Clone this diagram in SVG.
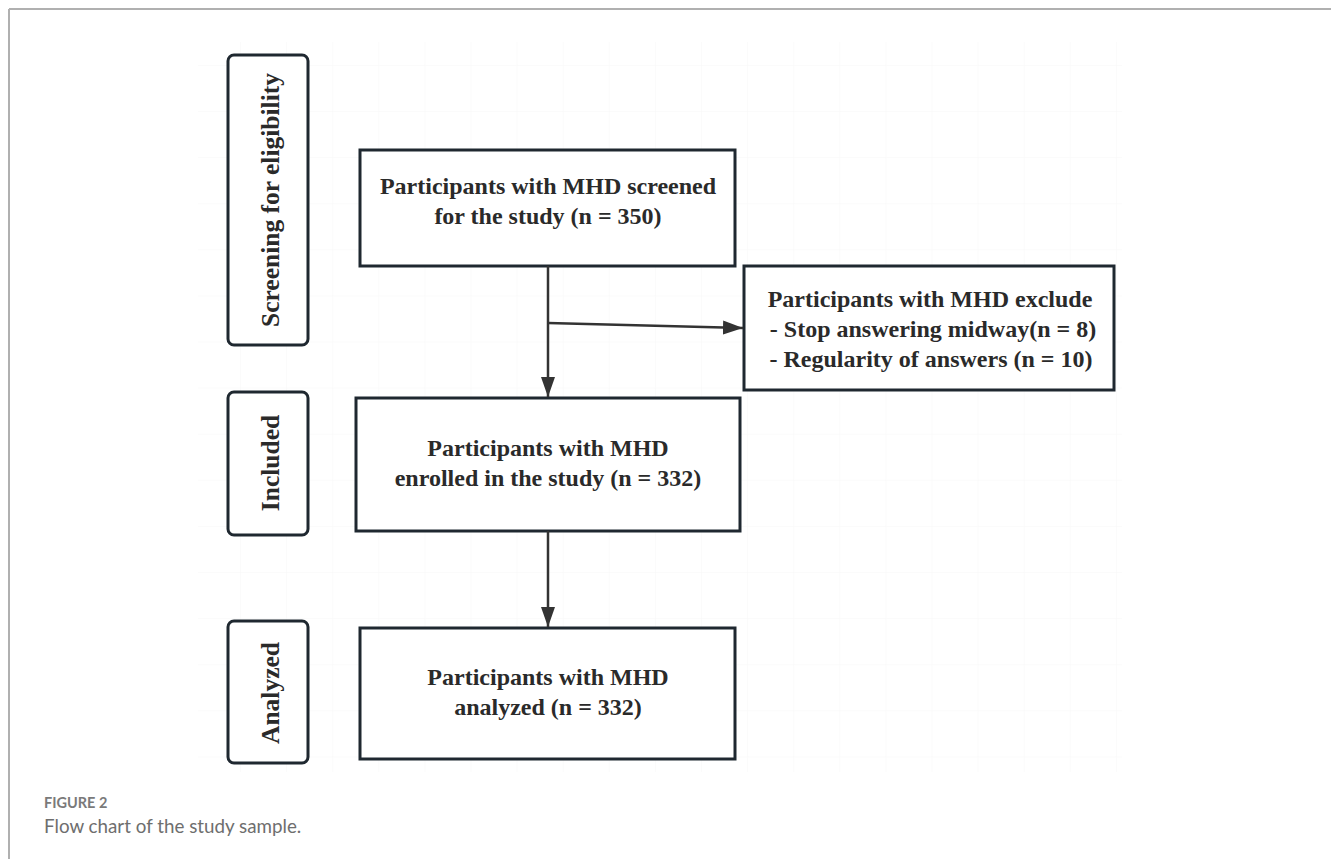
<svg xmlns="http://www.w3.org/2000/svg" width="1331" height="859" viewBox="0 0 1331 859">
  <style>
    .box { fill: #ffffff; stroke: #1f2830; stroke-width: 3; }
    .side { fill: #ffffff; stroke: #1f2830; stroke-width: 3; }
    .t { font-family: "Liberation Serif", "Times New Roman", serif; font-weight: bold; font-size: 24px; fill: #2a2a2a; text-anchor: middle; }
    .st { font-family: "Liberation Serif", "Times New Roman", serif; font-weight: bold; font-size: 25.5px; fill: #2a2a2a; text-anchor: middle; }
    .conn { stroke: #333333; stroke-width: 2.5; fill: none; }
    .cap1 { font-family: Lato, "Open Sans", sans-serif; font-weight: bold; font-size: 14.5px; fill: #7a7a7a; }
    .cap2 { font-family: Lato, "Open Sans", sans-serif; font-size: 18.8px; fill: #6e6e6e; }
  </style>
  <defs>
    <marker id="arr" viewBox="0 0 20 14" refX="20" refY="7" markerWidth="20" markerHeight="14" markerUnits="userSpaceOnUse" orient="auto">
      <path d="M0,0 L20,7 L0,14 Z" fill="#333333"/>
    </marker>
    <pattern id="grid" x="9.5" y="18.8" width="46.1" height="46.1" patternUnits="userSpaceOnUse">
      <path d="M0,0 H46.1 M0,0 V46.1" stroke="#f7f7f7" stroke-width="1" fill="none"/>
    </pattern>
  </defs>
  <rect width="1331" height="859" fill="#ffffff"/>
  <rect x="198" y="42" width="924" height="730" fill="url(#grid)"/>
  <g id="frame">
    <line x1="9" y1="9" x2="1331" y2="9" stroke="#b0b0b0" stroke-width="2"/>
    <line x1="9" y1="9" x2="9" y2="859" stroke="#b0b0b0" stroke-width="2"/>
  </g>

  <g id="label-screening">
    <rect class="side" x="228" y="55" width="80" height="290" rx="6"/>
    <text class="st" transform="translate(279,200) rotate(-90)">Screening for eligibility</text>
  </g>
  <g id="label-included">
    <rect class="side" x="228" y="392" width="80" height="143" rx="6"/>
    <text class="st" transform="translate(279,463) rotate(-90)">Included</text>
  </g>
  <g id="label-analyzed">
    <rect class="side" x="228" y="621" width="80" height="142" rx="6"/>
    <text class="st" transform="translate(279,693) rotate(-90)">Analyzed</text>
  </g>

  <g id="node-screened">
    <rect class="box" x="360" y="150" width="375" height="116"/>
    <text class="t" x="548" y="194">Participants with MHD screened</text>
    <text class="t" x="548" y="224">for the study (n = 350)</text>
  </g>
  <g id="node-excluded">
    <rect class="box" x="744" y="266" width="370" height="124"/>
    <text class="t" x="930" y="307">Participants with MHD exclude</text>
    <text class="t" x="933" y="337">- Stop answering midway(n = 8)</text>
    <text class="t" x="931" y="367">- Regularity of answers (n = 10)</text>
  </g>
  <g id="node-enrolled">
    <rect class="box" x="356" y="398" width="384" height="133"/>
    <text class="t" x="548" y="456">Participants with MHD</text>
    <text class="t" x="548" y="486">enrolled in the study (n = 332)</text>
  </g>
  <g id="node-analyzed">
    <rect class="box" x="360" y="628" width="375" height="131"/>
    <text class="t" x="548" y="685">Participants with MHD</text>
    <text class="t" x="548" y="715">analyzed (n = 332)</text>
  </g>

  <g id="connectors">
    <line class="conn" x1="548" y1="266" x2="548" y2="397" marker-end="url(#arr)"/>
    <line class="conn" x1="548" y1="323" x2="743" y2="328" marker-end="url(#arr)"/>
    <line class="conn" x1="548" y1="531" x2="548" y2="627" marker-end="url(#arr)"/>
  </g>

  <g id="caption">
    <text class="cap1" x="44" y="808">FIGURE 2</text>
    <text class="cap2" x="44" y="833">Flow chart of the study sample.</text>
  </g>
</svg>
